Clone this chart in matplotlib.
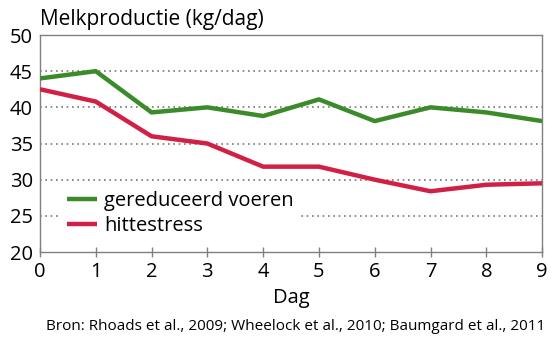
import matplotlib
matplotlib.use("Agg")
import matplotlib.pyplot as plt

# data
days = [0, 1, 2, 3, 4, 5, 6, 7, 8, 9]
gereduceerd = [44.0, 45.0, 39.3, 40.0, 38.8, 41.1, 38.1, 40.0, 39.3, 38.1]
hittestress = [42.5, 40.8, 36.0, 35.0, 31.8, 31.8, 30.0, 28.4, 29.3, 29.5]
y_ticks = [20, 25, 30, 35, 40, 45, 50]

green = "#3b8b2b"
red = "#d11f45"
grey = "#808080"

plt.rcParams["font.family"] = ["Open Sans", "DejaVu Sans"]

fig = plt.figure(figsize=(5.6, 3.4), dpi=100)
ax = fig.add_axes([0.0714, 0.2588, 0.8966, 0.6382])

ax.plot(days, gereduceerd, color=green, lw=3.2, solid_capstyle="butt", label="gereduceerd voeren", zorder=3)
ax.plot(days, hittestress, color=red, lw=3.2, solid_capstyle="butt", label="hittestress", zorder=3)

ax.set_xlim(0, 9)
ax.set_ylim(20, 50)
ax.set_xticks(days)
ax.set_yticks(y_ticks)

# dotted grid lines for the inner values
for y in y_ticks[1:-1]:
    ax.axhline(y, color="#777777", lw=1.2, ls=(0, (1, 2.2)), zorder=1)

for s in ax.spines.values():
    s.set_color(grey)
    s.set_linewidth(1.0)

ax.tick_params(axis="x", direction="inout", length=7, width=1, color=grey, labelsize=14.5, pad=4)
ax.tick_params(axis="y", length=0, labelsize=14.5, pad=5)
ax.set_xlabel("Dag", fontsize=14.5, labelpad=4)

leg = ax.legend(loc="upper left", bbox_to_anchor=(0.042, 0.31), borderaxespad=0, frameon=True,
                fontsize=14.5, handlelength=1.5, handletextpad=0.35, labelspacing=0.28, borderpad=0.3)
leg.get_frame().set_edgecolor("none")
leg.get_frame().set_facecolor("white")
leg.get_frame().set_alpha(1)
leg.get_frame().set_boxstyle("square", pad=0)
leg.set_zorder(5)

fig.text(0.071, 0.926, "Melkproductie (kg/dag)", fontsize=15, ha="left", va="baseline")
fig.text(0.083, 0.03, "Bron: Rhoads et al., 2009; Wheelock et al., 2010; Baumgard et al., 2011",
         fontsize=11, ha="left", va="baseline")

fig.savefig("out.png", dpi=100)
